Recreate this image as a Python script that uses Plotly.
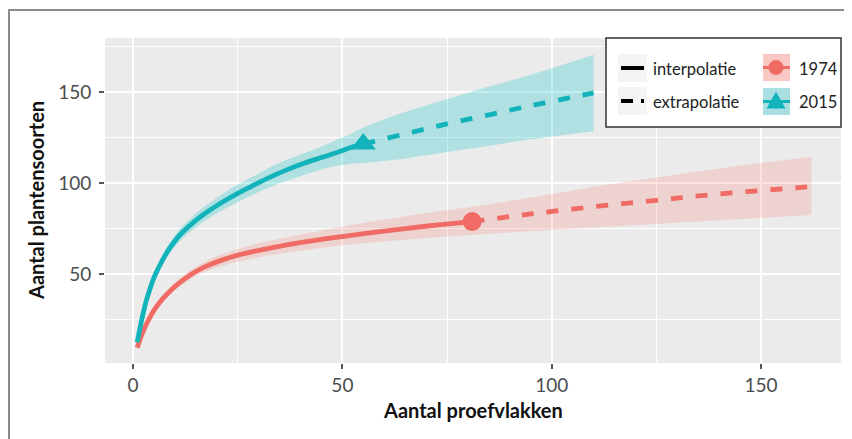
import plotly.graph_objects as go

# ---------------- data ----------------
x_1974_int = [1, 2, 3, 4, 5, 6, 7, 9, 11, 14, 17, 21, 25, 29, 33, 41, 49, 57, 65, 73, 81]
y_1974_int = [9.5, 16, 21.5, 26, 30, 33.3, 36.2, 41, 45, 50, 53.8, 57.5, 60.3, 62.5, 64.4, 67.6, 70.3, 72.8, 75, 77, 78.8]
lo_1974_int = [9, 15.3, 20.5, 24.8, 28.6, 31.8, 34.5, 39, 42.8, 47.5, 51, 54.3, 56.8, 58.7, 60.4, 63.1, 65.5, 67.3, 68.8, 70.3, 71.5]
hi_1974_int = [10, 16.7, 22.5, 27.2, 31.4, 34.8, 37.9, 43, 47.2, 52.5, 56.6, 60.7, 63.8, 66.3, 68.4, 72.1, 75.5, 78.8, 81.8, 84.5, 87]
x_1974_ext = [81, 95, 110, 125, 140, 162]
y_1974_ext = [78.8, 83, 87, 90.5, 94, 98]
lo_1974_ext = [71.5, 73.5, 75.5, 77.5, 79.5, 82.5]
hi_1974_ext = [87, 92, 98, 103, 108, 114.5]

x_2015_int = [1, 2, 3, 4, 5, 6, 7, 8, 9, 11, 13, 15, 17, 21, 25, 29, 33, 37, 41, 45, 49, 52, 55]
y_2015_int = [12.5, 24, 34, 41.5, 48, 53, 57.5, 61.5, 65, 71, 75.5, 79.5, 83, 89, 94.3, 99, 103.5, 107.5, 111, 114, 117, 119.5, 121.5]
lo_2015_int = [11.8, 23, 32.5, 39.5, 45.8, 50.6, 55, 58.7, 62, 67.6, 72, 75.6, 79, 84.6, 89.4, 94, 98, 101.5, 104.5, 107.5, 109.5, 110.5, 111]
hi_2015_int = [13.2, 25, 35.5, 43.5, 50.2, 55.4, 60, 64.3, 68, 74.4, 79, 83.4, 87, 93.4, 99.2, 104, 109, 113, 116.5, 120, 124, 127, 130.5]
x_2015_ext = [55, 65, 75, 85, 95, 110]
y_2015_ext = [121.5, 127, 132.5, 137.5, 142.5, 149.5]
lo_2015_ext = [111, 113.5, 117, 120.5, 124, 128.5]
hi_2015_ext = [130.5, 139, 146, 153, 159.5, 170.5]

ref_1974 = (81, 78.8)
ref_2015 = (55, 121.5)

x_ticks = [0, 50, 100, 150]
y_ticks = [50, 100, 150]

years = ["1974", "2015"]
linetypes = ["interpolatie", "extrapolatie"]
x_title = "Aantal proefvlakken"
y_title = "Aantal plantensoorten"

# ---------------- styles ----------------
RED = "#F06B64"
CYAN = "#12B3BA"
RED_FILL = "rgba(248,118,109,0.21)"
CYAN_FILL = "rgba(0,191,196,0.25)"
FONT = "Lato"

W, H = 852, 439
OFF = 8  # page body margin
L, R, T, B = 97, 19, 30, 84
PW, PH = W - L - R, H - T - B


def px(xw):
    return (xw - OFF - L) / PW


def py(yw):
    return (H - B - (yw - OFF)) / PH


fig = go.Figure()


def add_series(xi, yi, loi, hii, xe, ye, loe, hie, ref, color, fill, symbol, msize):
    xs = xi + xe[1:]
    los = loi + loe[1:]
    his = hii + hie[1:]
    fig.add_trace(go.Scatter(x=xs, y=los, mode="lines", line=dict(width=0),
                             showlegend=False, hoverinfo="skip", line_shape="spline"))
    fig.add_trace(go.Scatter(x=xs, y=his, mode="lines", line=dict(width=0),
                             fill="tonexty", fillcolor=fill, showlegend=False,
                             hoverinfo="skip", line_shape="spline"))
    fig.add_trace(go.Scatter(x=xi, y=yi, mode="lines", line=dict(color=color, width=4.8),
                             line_shape="spline", showlegend=False))
    fig.add_trace(go.Scatter(x=xe, y=ye, mode="lines",
                             line=dict(color=color, width=4.8, dash="12px,13px"),
                             line_shape="spline", showlegend=False))
    fig.add_trace(go.Scatter(x=[ref[0]], y=[ref[1]], mode="markers",
                             marker=dict(color=color, size=msize, symbol=symbol),
                             showlegend=False))


add_series(x_1974_int, y_1974_int, lo_1974_int, hi_1974_int,
           x_1974_ext, y_1974_ext, lo_1974_ext, hi_1974_ext, ref_1974,
           RED, RED_FILL, "circle", 19)
add_series(x_2015_int, y_2015_int, lo_2015_int, hi_2015_int,
           x_2015_ext, y_2015_ext, lo_2015_ext, hi_2015_ext, ref_2015,
           CYAN, CYAN_FILL, "triangle-up", 22)

tickfont = dict(family=FONT, size=19, color="#4d4d4d")
axis_common = dict(showline=False, zeroline=False, ticks="outside", ticklen=5,
                   tickwidth=1.5, tickcolor="#555", gridcolor="white", gridwidth=1.6,
                   tickfont=tickfont,
                   minor=dict(showgrid=True, gridcolor="white", gridwidth=0.7, ticks=""))

fig.update_xaxes(range=[-6.7, 169.1], tickvals=x_ticks, **axis_common)
fig.update_xaxes(minor_dtick=25, minor_tick0=0)
fig.update_yaxes(range=[1.1, 179.7], tickvals=y_ticks, ticklabelstandoff=4, **axis_common)
fig.update_yaxes(minor_dtick=25, minor_tick0=0)

shapes = []
annotations = []

# outer frame
shapes.append(dict(type="rect", xref="paper", yref="paper",
                   x0=px(9), x1=px(905), y0=py(520), y1=py(10),
                   line=dict(color="#8a8a8a", width=2), layer="above"))

# legend box
shapes.append(dict(type="rect", xref="paper", yref="paper",
                   x0=px(606), x1=px(841), y0=py(127), y1=py(38),
                   fillcolor="white", line=dict(color="#333", width=1.5), layer="above"))
# linetype keys
for yc in (68, 101):
    shapes.append(dict(type="rect", xref="paper", yref="paper",
                       x0=px(618), x1=px(647), y0=py(yc + 14), y1=py(yc - 14),
                       fillcolor="#F4F4F4", line=dict(width=0), layer="above"))
shapes.append(dict(type="line", xref="paper", yref="paper",
                   x0=px(621), x1=px(644), y0=py(68), y1=py(68),
                   line=dict(color="black", width=4), layer="above"))
shapes.append(dict(type="line", xref="paper", yref="paper",
                   x0=px(621), x1=px(644), y0=py(101), y1=py(101),
                   line=dict(color="black", width=4, dash="12px,8px"), layer="above"))
legfont = dict(family=FONT, size=16.5, color="#222")
annotations.append(dict(text=linetypes[0], x=px(651), y=py(69), xref="paper", yref="paper",
                        xanchor="left", yanchor="middle", showarrow=False, font=legfont))
annotations.append(dict(text=linetypes[1], x=px(651), y=py(102), xref="paper", yref="paper",
                        xanchor="left", yanchor="middle", showarrow=False, font=legfont))

# year keys
shapes.append(dict(type="rect", xref="paper", yref="paper",
                   x0=px(763), x1=px(790), y0=py(81), y1=py(54),
                   fillcolor="#FAC8C4", line=dict(width=0), layer="above"))
shapes.append(dict(type="rect", xref="paper", yref="paper",
                   x0=px(763), x1=px(790), y0=py(115), y1=py(88),
                   fillcolor="#A9DFE1", line=dict(width=0), layer="above"))
shapes.append(dict(type="line", xref="paper", yref="paper",
                   x0=px(763), x1=px(790), y0=py(67.5), y1=py(67.5),
                   line=dict(color=RED, width=3), layer="above"))
shapes.append(dict(type="line", xref="paper", yref="paper",
                   x0=px(763), x1=px(790), y0=py(101.5), y1=py(101.5),
                   line=dict(color=CYAN, width=3), layer="above"))
shapes.append(dict(type="circle", xref="paper", yref="paper",
                   x0=px(768.5), x1=px(783.5), y0=py(75), y1=py(60),
                   fillcolor=RED, line=dict(width=0), layer="above"))
shapes.append(dict(type="path", xref="paper", yref="paper",
                   path=f"M {px(776)},{py(91.5)} L {px(785.5)},{py(108.5)} L {px(766.5)},{py(108.5)} Z",
                   fillcolor=CYAN, line=dict(width=0), layer="above"))
annotations.append(dict(text=years[0], x=px(797), y=py(69), xref="paper", yref="paper",
                        xanchor="left", yanchor="middle", showarrow=False, font=legfont))
annotations.append(dict(text=years[1], x=px(797), y=py(102), xref="paper", yref="paper",
                        xanchor="left", yanchor="middle", showarrow=False, font=legfont))

# axis titles
annotations.append(dict(text=f"<b>{x_title}</b>", x=px(473), y=py(410), xref="paper", yref="paper",
                        xanchor="center", yanchor="middle", showarrow=False,
                        font=dict(family=FONT, size=20, color="#111")))
annotations.append(dict(text=f"<b>{y_title}</b>", x=px(36), y=py(201), xref="paper", yref="paper",
                        xanchor="center", yanchor="middle", showarrow=False, textangle=-90,
                        font=dict(family=FONT, size=20, color="#111")))

fig.update_layout(
    width=W, height=H,
    margin=dict(l=L, r=R, t=T, b=B),
    plot_bgcolor="#EBEBEB", paper_bgcolor="white",
    showlegend=False,
    shapes=shapes, annotations=annotations,
)

fig.write_html("out.html")
